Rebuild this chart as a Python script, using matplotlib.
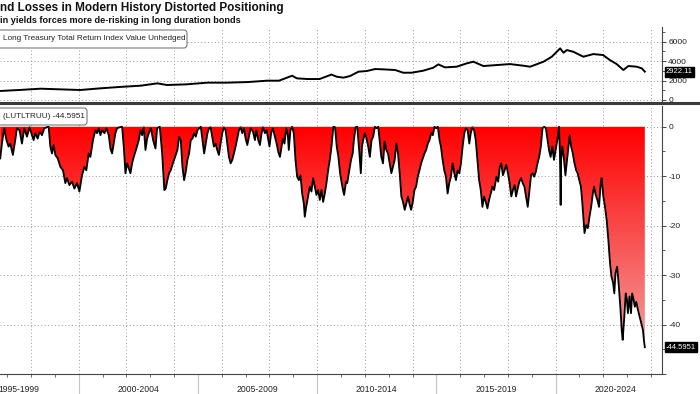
import matplotlib
matplotlib.use("Agg")
import numpy as np
import matplotlib.pyplot as plt
from matplotlib.colors import LinearSegmentedColormap
from matplotlib.patches import FancyBboxPatch
from matplotlib.lines import Line2D
from matplotlib.transforms import blended_transform_factory

plt.rcParams['font.family'] = ['Liberation Sans', 'DejaVu Sans']

TITLE = "nd Losses in Modern History Distorted Positioning"
SUBTITLE = "in yields forces more de-risking in long duration bonds"
INDEX_LABEL = "Long Treasury Total Return Index Value Unhedged"
DD_LABEL = "(LUTLTRUU) -44.5951"

period_starts = [1995, 2000, 2005, 2010, 2015, 2020]
period_labels = ["1995-1999", "2000-2004", "2005-2009", "2010-2014", "2015-2019", "2020-2024"]

# index level (top panel)
idx_years = [1996.71, 1997.5, 1998.4, 1999.2, 2000.06, 2000.9, 2001.7, 2002.6, 2003.3, 2003.7,
             2004.5, 2005.4, 2006.2, 2007.1, 2007.9, 2008.4, 2008.95, 2009.15, 2009.6, 2010.1,
             2010.6, 2010.82, 2011.1, 2011.38, 2011.73, 2012.08, 2012.43, 2012.78, 2013.27, 2013.61,
             2013.96, 2014.45, 2014.87, 2015.08, 2015.36, 2015.85, 2016.27, 2016.55, 2016.97, 2017.53,
             2018.09, 2018.65, 2018.93, 2019.49, 2019.84, 2020.19, 2020.33, 2020.47, 2020.74, 2021.16,
             2021.58, 2021.99, 2022.27, 2022.56, 2022.84, 2023.05, 2023.40, 2023.61, 2023.74]
idx_values = [930, 1030, 1165, 1100, 1030, 1200, 1340, 1475, 1715, 1545,
              1610, 1785, 1785, 1850, 1990, 1990, 2500, 2230, 2160, 2160,
              2620, 2400, 2300, 2470, 2915, 2985, 3190, 3155, 3090, 2810,
              2810, 3020, 3330, 3670, 3360, 3430, 3770, 3945, 3500, 3600,
              3700, 3530, 3430, 3945, 4460, 5320, 4870, 5145, 4970, 4460,
              4730, 4630, 4120, 3700, 3090, 3500, 3430, 3260, 2922.11]

# drawdown from peak in % (bottom panel)
dd_years = [
    1996.71, 1996.78, 1996.88, 1996.97, 1997.06, 1997.13, 1997.24, 1997.34, 1997.41, 1997.52,
    1997.62, 1997.72, 1997.83, 1997.94, 1998.04, 1998.11, 1998.18, 1998.28, 1998.36, 1998.46,
    1998.56, 1998.67, 1998.74, 1998.81, 1998.88, 1998.95, 1999.02, 1999.12, 1999.23, 1999.34,
    1999.44, 1999.51, 1999.61, 1999.72, 1999.82, 1999.93, 2000.03, 2000.14, 2000.24, 2000.32,
    2000.42, 2000.49, 2000.60, 2000.70, 2000.77, 2000.84, 2000.91, 2000.98, 2001.08, 2001.16,
    2001.26, 2001.33, 2001.40, 2001.47, 2001.54, 2001.61, 2001.72, 2001.82, 2001.89, 2001.96,
    2002.03, 2002.10, 2002.17, 2002.24, 2002.31, 2002.42, 2002.52, 2002.59, 2002.66, 2002.73,
    2002.80, 2002.87, 2002.94, 2003.03, 2003.12, 2003.22, 2003.29, 2003.40, 2003.50, 2003.59,
    2003.65, 2003.72, 2003.79, 2003.86, 2003.93, 2004.04, 2004.14, 2004.21, 2004.28, 2004.35,
    2004.42, 2004.49, 2004.56, 2004.63, 2004.70, 2004.77, 2004.84, 2004.91, 2004.98, 2005.05,
    2005.12, 2005.19, 2005.26, 2005.33, 2005.40, 2005.47, 2005.53, 2005.60, 2005.67, 2005.74,
    2005.81, 2005.88, 2005.95, 2006.02, 2006.09, 2006.16, 2006.23, 2006.30, 2006.37, 2006.44,
    2006.51, 2006.58, 2006.65, 2006.72, 2006.79, 2006.86, 2006.93, 2007.00, 2007.07, 2007.14,
    2007.21, 2007.31, 2007.39, 2007.45, 2007.53, 2007.60, 2007.67, 2007.73, 2007.81, 2007.88,
    2007.95, 2008.00, 2008.07, 2008.14, 2008.23, 2008.30, 2008.37, 2008.44, 2008.51, 2008.56,
    2008.63, 2008.70, 2008.77, 2008.81, 2008.88, 2008.95, 2009.02, 2009.09, 2009.16, 2009.23,
    2009.30, 2009.37, 2009.44, 2009.48, 2009.54, 2009.62, 2009.69, 2009.76, 2009.83, 2009.90,
    2009.97, 2010.04, 2010.11, 2010.18, 2010.25, 2010.32, 2010.39, 2010.46, 2010.53, 2010.60,
    2010.68, 2010.75, 2010.82, 2010.89, 2010.96, 2011.03, 2011.07, 2011.13, 2011.21, 2011.26,
    2011.35, 2011.42, 2011.49, 2011.54, 2011.61, 2011.68, 2011.76, 2011.83, 2011.88, 2011.93,
    2012.00, 2012.07, 2012.14, 2012.21, 2012.28, 2012.35, 2012.42, 2012.49, 2012.56, 2012.63,
    2012.69, 2012.76, 2012.83, 2012.90, 2012.97, 2013.04, 2013.11, 2013.18, 2013.25, 2013.32,
    2013.39, 2013.46, 2013.53, 2013.60, 2013.67, 2013.74, 2013.81, 2013.88, 2013.94, 2014.01,
    2014.08, 2014.15, 2014.22, 2014.29, 2014.36, 2014.43, 2014.50, 2014.57, 2014.64, 2014.71,
    2014.78, 2014.85, 2014.92, 2014.99, 2015.06, 2015.13, 2015.19, 2015.26, 2015.33, 2015.40,
    2015.47, 2015.54, 2015.61, 2015.68, 2015.75, 2015.82, 2015.89, 2015.96, 2016.03, 2016.10,
    2016.17, 2016.24, 2016.31, 2016.38, 2016.44, 2016.51, 2016.58, 2016.65, 2016.72, 2016.79,
    2016.86, 2016.93, 2017.00, 2017.07, 2017.14, 2017.21, 2017.28, 2017.35, 2017.42, 2017.52,
    2017.59, 2017.66, 2017.72, 2017.79, 2017.86, 2017.93, 2018.00, 2018.07, 2018.14, 2018.21,
    2018.28, 2018.34, 2018.41, 2018.48, 2018.55, 2018.62, 2018.69, 2018.76, 2018.83, 2018.90,
    2018.97, 2019.03, 2019.10, 2019.17, 2019.24, 2019.31, 2019.38, 2019.45, 2019.52, 2019.59,
    2019.66, 2019.72, 2019.79, 2019.86, 2019.93, 2020.00, 2020.07, 2020.14, 2020.18, 2020.21,
    2020.23, 2020.28, 2020.34, 2020.41, 2020.48, 2020.55, 2020.59, 2020.65, 2020.72, 2020.79,
    2020.86, 2020.92, 2020.99, 2021.06, 2021.12, 2021.17, 2021.21, 2021.28, 2021.35, 2021.42,
    2021.49, 2021.56, 2021.61, 2021.68, 2021.75, 2021.82, 2021.89, 2021.93, 2022.00, 2022.07,
    2022.14, 2022.21, 2022.28, 2022.34, 2022.41, 2022.46, 2022.51, 2022.58, 2022.65, 2022.72,
    2022.77, 2022.81, 2022.87, 2022.94, 2022.99, 2023.03, 2023.10, 2023.16, 2023.21, 2023.27,
    2023.32, 2023.38, 2023.45, 2023.52, 2023.59, 2023.66, 2023.70, 2023.74]
dd_values = [
    -6.4, -3.4, -0.3, -2.7, -4.0, -3.4, -5.7, -2.7, -0.3, -0.7,
    -3.4, -0.3, -2.0, -0.1, -1.7, -2.7, -1.3, -2.4, -1.0, -1.7,
    -0.3, -0.1, 0.0, -4.0, -5.4, -3.7, -5.7, -6.4, -8.1, -8.8,
    -11.4, -10.4, -11.8, -11.1, -12.5, -11.4, -13.1, -9.8, -8.1, -8.8,
    -5.4, -6.1, -2.7, -0.7, -1.3, -0.3, -1.7, -0.7, -1.3, -0.3,
    -1.7, -4.4, -5.4, -3.4, -1.3, -0.3, -0.1, 0.0, -4.0, -9.4,
    -7.4, -8.4, -9.4, -7.4, -6.1, -4.4, -2.7, -0.7, -1.7, -0.1,
    -4.7, -2.4, -1.3, -0.3, -2.7, -4.4, -0.3, 0.0, -5.4, -12.8,
    -12.5, -10.8, -9.4, -8.8, -7.7, -6.1, -4.7, -2.0, -2.7, -8.1,
    -10.8, -9.1, -6.7, -5.4, -2.7, -2.4, -1.3, -2.0, -0.7, -0.3,
    0.0, -2.7, -5.4, -3.4, -1.3, -0.3, -0.1, -2.0, -4.0, -3.4,
    -4.7, -5.7, -3.4, -1.3, -0.1, -0.7, -3.4, -6.1, -7.4, -6.7,
    -5.4, -4.0, -2.4, -0.7, -0.1, -1.3, -0.3, -2.4, -3.7, -2.0,
    -0.3, -1.0, -2.7, -0.7, -2.7, -3.7, -1.3, -0.1, -1.3, -0.7,
    -2.7, -4.0, -1.3, -0.3, -2.0, -3.4, -5.1, -6.1, -4.0, -2.4,
    -3.4, -0.3, -1.7, -4.7, -0.7, 0.0, -1.3, -6.7, -10.1, -10.8,
    -9.8, -13.5, -15.5, -18.2, -16.2, -14.1, -12.1, -13.1, -10.4, -12.1,
    -13.8, -12.8, -14.8, -12.8, -15.2, -13.5, -11.4, -8.8, -6.7, -4.0,
    0.0, -0.1, -4.0, -6.1, -9.4, -11.4, -12.5, -13.8, -11.1, -11.4,
    -8.8, -6.7, -5.4, -2.7, -0.1, 0.0, -4.7, -9.4, -4.0, -2.7,
    -1.3, -2.4, -4.0, -6.1, -2.7, -2.0, 0.0, -0.3, 0.0, -3.4,
    -6.1, -7.4, -3.0, -4.7, -5.4, -7.4, -9.4, -8.1, -6.7, -3.4,
    -5.4, -9.4, -14.1, -15.2, -16.8, -15.5, -14.1, -15.8, -16.8, -15.2,
    -12.8, -12.1, -10.1, -8.8, -7.4, -6.4, -5.4, -4.7, -3.4, -2.7,
    -1.3, -1.7, 0.0, -0.3, 0.0, -2.7, -4.0, -6.7, -8.8, -10.1,
    -13.5, -11.4, -10.1, -7.4, -9.4, -10.8, -8.8, -9.4, -7.4, -4.0,
    -1.3, -0.3, -0.7, -3.4, -1.3, -0.1, -0.7, -2.7, -6.7, -10.8,
    -12.8, -16.2, -14.1, -15.2, -16.5, -14.8, -13.5, -12.1, -12.8, -10.1,
    -11.1, -8.1, -7.4, -9.8, -8.8, -7.7, -9.4, -11.4, -14.1, -12.8,
    -11.8, -14.1, -12.5, -11.1, -10.4, -11.4, -12.1, -14.1, -16.2, -13.1,
    -9.8, -9.4, -10.1, -9.1, -7.4, -6.1, -4.0, -0.3, 0.0, -0.3,
    -2.7, -4.7, -6.1, -4.0, -6.7, -4.7, -2.7, 0.0, -5.4, -15.8,
    -6.7, -4.0, -6.1, -9.8, -6.7, -3.4, -1.7, -4.0, -5.4, -7.4,
    -8.8, -9.4, -10.8, -12.1, -15.5, -18.9, -21.5, -19.9, -20.5, -18.2,
    -16.2, -13.5, -12.1, -13.8, -14.8, -16.2, -11.4, -10.4, -14.1, -16.2,
    -18.9, -22.9, -27.6, -30.3, -31.6, -33.7, -29.6, -28.3, -32.3, -37.0,
    -41.1, -43.1, -39.1, -33.7, -35.0, -37.7, -34.3, -37.7, -33.7, -35.0,
    -36.4, -35.4, -37.0, -38.4, -39.7, -41.1, -43.1, -44.5951]

X_LEFT, X_RIGHT = 1996.7, 2024.46
W, H = 700, 394


def style_right_axis(ax):
    for side in ("left", "top", "bottom"):
        ax.spines[side].set_visible(False)
    ax.spines["right"].set_color("#444444")
    ax.spines["right"].set_linewidth(0.8)
    ax.yaxis.tick_right()
    ax.tick_params(axis="y", which="major", direction="out", length=3, width=0.7,
                   color="#444444", labelsize=6, labelcolor="#222222", pad=1.5)
    ax.tick_params(axis="y", which="minor", direction="out", length=2, width=0.6,
                   color="#444444")
    ax.set_xlim(X_LEFT, X_RIGHT)
    for yr in range(1998, 2025, 2):
        ax.axvline(yr, color="#9a9a9a", linestyle=(0, (1, 2.5)), linewidth=0.7, zorder=1)


def value_tag(ax, y, text):
    tr = blended_transform_factory(ax.transAxes, ax.transData)
    ax.text(1.006, y, text, transform=tr, color="white", fontsize=5.5,
            ha="left", va="center", clip_on=False,
            bbox=dict(boxstyle="square,pad=0.18", fc="black", ec="black"))


fig = plt.figure(figsize=(W / 100, H / 100), dpi=100)

# top panel: index level
ax_top = fig.add_axes([0, 1 - 102 / H, 662 / W, 75 / H])
style_right_axis(ax_top)
ax_top.plot(idx_years, idx_values, color="black", linewidth=1.4, zorder=3)
ax_top.set_ylim(-206, 7519)
ax_top.set_yticks([0, 2000, 4000, 6000])
ax_top.set_yticks([1000, 3000, 5000, 7000], minor=True)
ax_top.yaxis.grid(True, which="major", color="#9a9a9a", linestyle=(0, (1, 2.5)), linewidth=0.7)
ax_top.tick_params(axis="x", which="both", bottom=False, labelbottom=False)
value_tag(ax_top, idx_values[-1], f"{idx_values[-1]:.2f}")

# bottom panel: drawdown
ax_bot = fig.add_axes([0, 1 - 374 / H, 662 / W, 268 / H])
style_right_axis(ax_bot)
ax_bot.spines["bottom"].set_visible(True)
ax_bot.spines["bottom"].set_color("#444444")
ax_bot.spines["bottom"].set_linewidth(0.8)
ax_bot.set_ylim(-50, 4.2)
ax_bot.set_yticks([0, -10, -20, -30, -40, -50], labels=["0", "-10", "-20", "-30", "-40", ""])
ax_bot.set_yticks([-5, -15, -25, -35, -45], minor=True)
ax_bot.yaxis.grid(True, which="major", color="#9a9a9a", linestyle=(0, (1, 2.5)), linewidth=0.7)
ax_bot.set_axisbelow(True)

fill = ax_bot.fill_between(dd_years, dd_values, 0, facecolor="none", edgecolor="none")
cmap = LinearSegmentedColormap.from_list("dd", ["#f2b2b2", "#ff0000"])
grad = np.linspace(0, 1, 256).reshape(-1, 1)
img = ax_bot.imshow(grad, extent=[X_LEFT, X_RIGHT, -50, 0], origin="lower",
                    aspect="auto", cmap=cmap, zorder=2)
img.set_clip_path(fill.get_paths()[0], transform=ax_bot.transData)
ax_bot.plot(dd_years, dd_values, color="black", linewidth=1.3, zorder=3)
ax_bot.set_xlim(X_LEFT, X_RIGHT)
ax_bot.set_ylim(-50, 4.2)
value_tag(ax_bot, dd_values[-1], f"{dd_values[-1]:.4f}")

# x axis: period separators, yearly ticks, period labels
ax_bot.set_xticks(period_starts[1:], labels=[""] * (len(period_starts) - 1))
ax_bot.set_xticks(range(1997, 2025), minor=True)
ax_bot.tick_params(axis="x", which="major", direction="out", length=15, width=0.8, color="#c4c4c4")
ax_bot.tick_params(axis="x", which="minor", direction="out", length=2, width=0.6, color="#555555")
trx = blended_transform_factory(ax_bot.transData, ax_bot.transAxes)
for start, lab in zip(period_starts, period_labels):
    ax_bot.text(start + 2.5, -15.5 / 268, lab, transform=trx, ha="center", va="center",
                fontsize=6.2, color="#222222", clip_on=False)

# separator between panels
fig.add_artist(Line2D([0, 1], [1 - 103 / H, 1 - 103 / H], color="#3a3a3a", linewidth=2.2))

# title and subtitle
fig.text(0, 1 - 8.5 / H, TITLE, fontsize=8.5, fontweight="bold", color="#111111", va="center")
fig.text(0, 1 - 20.5 / H, SUBTITLE, fontsize=6.6, fontweight="bold", color="#111111", va="center")

# legend boxes (left side cut off like the source)
inch = fig.dpi_scale_trans
for (x1, y_top, y_bot), label in [((187, 30, 48), INDEX_LABEL), ((87, 108, 125), DD_LABEL)]:
    box = FancyBboxPatch((-0.1, (H - y_bot) / 100), x1 / 100 + 0.1, (y_bot - y_top) / 100,
                         boxstyle="round,pad=0,rounding_size=0.03", transform=inch,
                         facecolor="white", edgecolor="#666666", linewidth=0.7, zorder=5)
    fig.patches.append(box)
    fig.text(0.03, (H - (y_top + y_bot) / 2) / 100, label, transform=inch, fontsize=5.9,
             color="#222222", va="center", ha="left", zorder=6)

fig.savefig("out.png", dpi=100)
